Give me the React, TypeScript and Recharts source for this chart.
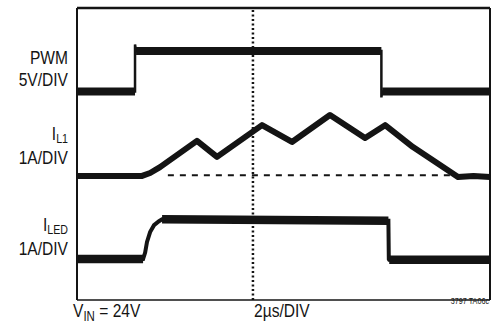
import { LineChart, Line, XAxis, YAxis, ReferenceLine } from "recharts";

// time in µs (2µs/DIV), level in screen divisions from the bottom
const pwmTime = [0, 2.81, 2.81, 2.86, 14.74, 14.74, 14.78, 20];
const pwmLevel = [5.71, 5.71, 7.0, 6.82, 6.82, 5.55, 5.71, 5.71];

const il1Time = [0, 3.15, 3.54, 4.02, 5.81, 6.78, 8.96, 10.41, 12.25, 13.95, 14.92, 16.27, 17.58, 18.45, 19.2, 20];
const il1Level = [3.4, 3.4, 3.48, 3.64, 4.36, 3.92, 4.79, 4.33, 5.07, 4.44, 4.79, 4.19, 3.7, 3.37, 3.4, 3.37];

const ledTime = [0, 3.2, 3.3, 3.39, 3.54, 3.73, 3.97, 4.12, 15.08, 15.1, 15.12, 20];
const ledLevel = [1.12, 1.12, 1.3, 1.59, 1.86, 2.05, 2.16, 2.21, 2.17, 1.12, 1.1, 1.1];

const cursorTime = 8.52;
const zeroLevel = 3.42;
const zeroStart = 4.4;

const INK = "#141414";

function toRows(t: number[], v: number[]) {
  return t.map((x, i) => ({ t: x, v: v[i] }));
}

// only the flat parts of a trace, so they can be drawn thicker than the edges
function flatParts(t: number[], v: number[]) {
  const rows: { t: number; v: number | null }[] = [];
  for (let i = 0; i < t.length - 1; i++) {
    if (Math.abs(v[i] - v[i + 1]) < 0.06 && t[i + 1] - t[i] > 0.5) {
      if (rows.length) rows.push({ t: t[i], v: null });
      rows.push({ t: t[i], v: v[i] });
      rows.push({ t: t[i + 1], v: v[i + 1] });
    }
  }
  return rows;
}

function Txt({ x, y, anchor = "end", size = 19, sx = 0.82, children }: any) {
  return (
    <g transform={`translate(${x} ${y}) scale(${sx} 1)`}>
      <text
        textAnchor={anchor}
        fontSize={size}
        fontFamily="'Liberation Sans', Arial, sans-serif"
        fill={INK}
      >
        {children}
      </text>
    </g>
  );
}

export default function App() {
  return (
    <div style={{ position: "absolute", left: 0, top: 0, width: 491, height: 326, background: "#fff" }}>
      <LineChart width={491} height={326} margin={{ top: 8, right: 1, bottom: 26, left: 77 }}>
        <XAxis type="number" dataKey="t" domain={[0, 20]} hide />
        <YAxis type="number" domain={[0, 8]} hide />

        <ReferenceLine y={8} stroke={INK} strokeWidth={2.5} />
        <ReferenceLine x={0} stroke={INK} strokeWidth={2} />
        <ReferenceLine y={0} stroke={INK} strokeWidth={1.6} />
        <ReferenceLine x={20} stroke={INK} strokeWidth={2} />

        <ReferenceLine x={cursorTime} stroke={INK} strokeWidth={2.5} strokeDasharray="2 2.5" />
        <ReferenceLine
          segment={[{ x: zeroStart, y: zeroLevel }, { x: 20, y: zeroLevel }]}
          stroke={INK}
          strokeWidth={2}
          strokeDasharray="6 6"
        />

        <Line data={toRows(pwmTime, pwmLevel)} dataKey="v" stroke={INK} strokeWidth={2.5} dot={false} isAnimationActive={false} />
        <Line data={flatParts(pwmTime, pwmLevel)} dataKey="v" stroke={INK} strokeWidth={8} strokeLinecap="butt" dot={false} isAnimationActive={false} />

        <Line data={toRows(il1Time, il1Level)} dataKey="v" stroke={INK} strokeWidth={6} strokeLinejoin="round" dot={false} isAnimationActive={false} />

        <Line data={toRows(ledTime, ledLevel)} dataKey="v" stroke={INK} strokeWidth={4} dot={false} isAnimationActive={false} />
        <Line data={flatParts(ledTime, ledLevel)} dataKey="v" stroke={INK} strokeWidth={8.5} strokeLinecap="butt" dot={false} isAnimationActive={false} />
      </LineChart>

      <svg width={491} height={326} style={{ position: "absolute", left: 0, top: 0, pointerEvents: "none" }}>
        <Txt x={68} y={64}>PWM</Txt>
        <Txt x={68} y={86}>5V/DIV</Txt>
        <Txt x={68} y={140}>
          I<tspan fontSize={13} dy={3}>L1</tspan>
        </Txt>
        <Txt x={68} y={164}>1A/DIV</Txt>
        <Txt x={68} y={231}>
          I<tspan fontSize={13} dy={3}>LED</tspan>
        </Txt>
        <Txt x={68} y={255}>1A/DIV</Txt>
        <Txt x={73} y={317} anchor="start">
          V<tspan fontSize={14} dy={4}>IN</tspan>
          <tspan dy={-4}> = 24V</tspan>
        </Txt>
        <Txt x={254} y={317} anchor="start">2µs/DIV</Txt>
        <Txt x={489} y={304} size={9.5} sx={0.76}>3797 TA06c</Txt>
      </svg>
    </div>
  );
}
